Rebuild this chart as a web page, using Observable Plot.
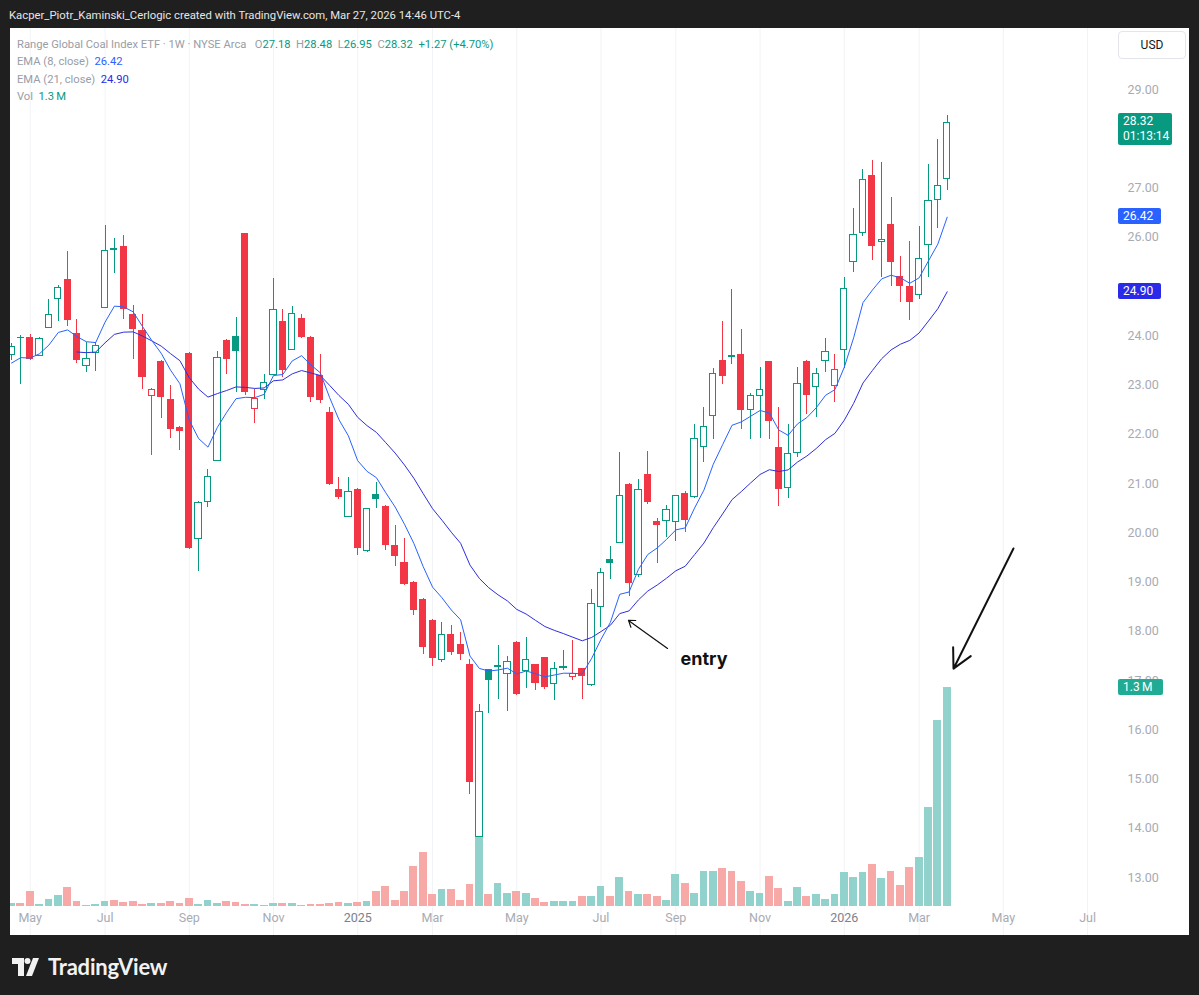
<!DOCTYPE html>
<html><head><meta charset="utf-8">
<script src="https://cdn.jsdelivr.net/npm/d3@7"></script>
<script src="https://cdn.jsdelivr.net/npm/@observablehq/plot@0.6"></script>
<style>
html,body{margin:0;padding:0;background:#1f1f1f;width:1199px;height:995px;overflow:hidden;font-family:Roboto,"Noto Sans",sans-serif;}
#top{position:absolute;left:9px;top:9px;color:#e6e6e6;font-size:11.3px;white-space:nowrap;}
#panel{position:absolute;left:10px;top:28px;width:1179px;height:907px;background:#fff;overflow:hidden;}
#panel .layer{position:absolute;left:0;top:0;}
#legend{position:absolute;left:7px;top:8px;font-size:11.2px;line-height:17.3px;color:#9a9da6;white-space:nowrap;z-index:5;}
#legend .up{color:#089981}
#legend .e8{color:#2962ff}
#legend .e21{color:#2a2ae8}
#legend .vol{color:#089981}
#usd{position:absolute;left:1108px;top:3px;width:66px;height:26px;border:1px solid #e3e5ea;border-radius:4px;font-size:12px;color:#131722;text-align:center;line-height:26px;z-index:5;}
#logo{position:absolute;left:12px;top:953px;display:flex;align-items:center;gap:6px;color:#f2f2f2;}
#logo span{font-family:Lato,"Noto Sans",sans-serif;font-weight:700;font-size:22px;letter-spacing:-0.2px;}
</style></head>
<body>
<div id="top">Kacper_Piotr_Kaminski_Cerlogic created with TradingView.com, Mar 27, 2026 14:46 UTC-4</div>
<div id="panel">
  <div id="legend"></div>
  <div id="usd">USD</div>
</div>
<div id="logo"><svg width="30" height="20" viewBox="0 0 30 20"><path d="M0 1h12v18h-6v-12h-6z" fill="#f2f2f2"/><circle cx="15.5" cy="4" r="3" fill="#f2f2f2"/><path d="M14 19l7-18h6l-7 18z" fill="#f2f2f2"/></svg><span>TradingView</span></div>
<script>
// ---- data (weekly candles, Range Global Coal Index ETF, NYSE Arca) ----
const firstWeek = "2024-04-22";
const lastWeek = "2026-03-23";
const openP = [23.60,23.97,23.97,23.59,24.16,24.75,25.15,24.04,23.38,23.65,
 24.56,25.77,25.82,24.43,24.10,22.77,23.48,22.71,22.13,23.64,
 19.88,20.62,21.45,23.90,23.99,26.07,22.52,22.89,23.21,24.29,
 23.72,24.36,23.96,23.19,22.45,20.87,20.32,20.88,19.62,20.78,
 20.54,19.74,19.39,19.00,18.64,18.22,17.41,17.93,17.73,17.32,
 13.83,17.22,17.27,17.14,17.78,17.20,17.32,17.46,16.93,17.26,
 17.08,17.24,16.90,18.49,19.46,19.80,20.97,19.15,21.18,20.22,
 20.23,20.22,20.80,20.73,21.75,22.37,23.50,23.60,23.62,22.50,
 22.78,23.47,21.74,20.91,21.62,23.48,22.96,23.48,22.97,23.72,
 25.49,26.09,27.25,25.91,26.26,25.21,24.99,24.82,25.85,26.75,27.18];
const highP = [23.85,24.00,24.03,23.96,24.73,25.02,25.72,24.33,23.87,23.87,
 26.24,25.97,26.03,24.61,24.44,22.92,23.50,22.98,22.15,23.66,
 20.63,21.28,23.68,23.92,24.38,26.08,22.90,23.21,25.16,24.53,
 24.59,24.43,23.98,23.61,22.54,21.13,21.13,20.90,20.50,21.03,
 20.56,20.15,19.88,19.02,18.66,18.24,18.18,18.12,17.98,17.42,
 16.51,17.23,17.71,17.49,17.79,17.87,17.33,17.47,17.37,17.61,
 17.81,17.25,18.84,19.27,19.72,21.63,20.99,21.08,21.64,20.28,
 20.55,20.76,20.84,22.20,22.55,23.33,24.29,24.93,24.12,22.83,
 23.35,23.48,22.55,22.19,23.35,23.50,23.33,23.95,23.61,25.19,
 26.59,27.38,27.56,27.51,26.80,25.61,25.92,26.22,27.47,27.98,28.48];
const lowP = [23.50,23.02,23.50,23.57,24.14,24.28,24.19,23.43,23.26,23.28,
 24.55,25.27,24.34,23.51,22.91,21.56,22.31,21.91,21.67,19.67,
 19.21,20.51,21.44,23.22,22.85,22.79,22.21,22.71,23.20,23.16,
 23.70,23.95,22.65,22.62,20.96,20.67,20.31,19.54,19.60,20.50,
 19.64,19.32,18.93,18.32,17.52,17.28,17.36,17.51,17.41,14.68,
 13.82,16.32,16.61,16.38,16.70,16.83,16.79,16.81,16.59,17.21,
 17.00,16.61,16.88,18.08,19.06,19.79,18.71,19.10,20.57,19.37,
 19.91,19.82,20.01,20.70,21.43,21.89,23.02,23.41,22.09,21.89,
 21.91,21.89,20.54,20.70,21.52,22.40,22.35,23.26,22.65,23.33,
 25.28,26.02,25.53,25.19,25.01,24.68,24.31,24.73,25.19,26.17,26.95];
const closeP = [23.78,23.94,23.52,23.94,24.43,24.96,24.30,23.50,23.52,23.80,
 25.73,25.74,24.53,24.13,23.15,22.90,22.74,22.10,22.06,19.69,
 20.61,21.13,23.54,23.52,23.69,22.85,22.72,23.04,24.53,23.29,
 24.45,23.97,22.75,22.69,20.98,20.72,20.83,19.69,20.49,20.67,
 19.74,19.51,18.95,18.42,17.66,17.44,17.93,17.56,17.53,14.92,
 16.37,17.00,17.29,17.38,16.72,17.41,16.94,16.85,17.24,17.28,
 17.14,17.09,18.55,19.19,19.38,20.75,18.96,20.86,20.62,20.15,
 20.47,20.74,20.24,21.91,22.14,23.23,23.18,23.56,22.49,22.77,
 22.89,22.25,20.88,21.60,23.02,22.79,23.23,23.68,23.31,24.95,
 26.05,27.17,25.82,25.95,25.49,24.99,24.68,25.56,26.73,27.05,28.32];
const volumeM = [0.016,0.016,0.089,0.012,0.042,0.065,0.111,0.030,0.006,0.012,
 0.030,0.036,0.022,0.028,0.012,0.018,0.016,0.028,0.016,0.046,
 0.012,0.034,0.016,0.028,0.022,0.010,0.012,0.006,0.016,0.016,
 0.016,0.006,0.012,0.010,0.016,0.022,0.016,0.026,0.030,0.089,
 0.119,0.036,0.089,0.238,0.323,0.071,0.101,0.101,0.036,0.131,
 0.410,0.069,0.139,0.079,0.089,0.079,0.046,0.024,0.030,0.030,
 0.028,0.062,0.062,0.121,0.062,0.175,0.089,0.069,0.069,0.060,
 0.034,0.190,0.137,0.079,0.208,0.208,0.226,0.206,0.147,0.089,
 0.079,0.179,0.107,0.030,0.113,0.058,0.069,0.042,0.071,0.202,
 0.173,0.202,0.250,0.167,0.206,0.123,0.230,0.290,0.589,1.107,1.300];
const emaFastLen = 8, emaSlowLen = 21;
const emaFastSeed = 23.35;          // EMA(8) just before first visible week
const emaSlowStart = 7, emaSlowSeed = 23.67; // EMA(21) first drawn week and value
// axis ticks
const priceTicks = [13,14,15,16,17,18,19,20,21,22,23,24,25,26,27,28,29];
const timeTickDates = ["2024-05-06","2024-07-01","2024-09-02","2024-11-04","2025-01-06","2025-03-03","2025-05-05","2025-07-07","2025-09-01","2025-11-03","2026-01-05","2026-03-02","2026-05-04","2026-07-06"];
const timeTickLabels = ["May","Jul","Sep","Nov","2025","Mar","May","Jul","Sep","Nov","2026","Mar","May","Jul"];
// legend values
const legendOHLC = ["27.18","28.48","26.95","28.32"];
const legendChange = "+1.27 (+4.70%)";
const legendEma = ["26.42","24.90"];
const legendVol = "1.3\u2009M";
const countdown = "01:13:14";
// annotations
const arrowFrom = [{date:"2025-08-25T19:00Z", price:17.65},{date:"2026-05-11T14:00Z", price:19.68}];
const arrowTo   = [{date:"2025-07-27T14:00Z", price:18.22},{date:"2026-03-27T17:00Z", price:17.24}];
const noteText = [{date:"2025-09-04T12:00Z", price:17.43, text:"entry"}];

// ---- build table ----
const weeks = d3.utcMonday.range(new Date(firstWeek), d3.utcDay.offset(new Date(lastWeek), 1));
let ef = emaFastSeed, es = null;
const rows = weeks.map((date, i) => {
  const c = closeP[i];
  ef = ef + (2 / (emaFastLen + 1)) * (c - ef);
  let slow = NaN;
  if (i >= emaSlowStart) { es = es === null ? emaSlowSeed : es + (2 / (emaSlowLen + 1)) * (c - es); slow = es; }
  const prev = i > 0 ? closeP[i - 1] : openP[i];
  return {date, open: openP[i], high: highP[i], low: lowP[i], close: c, volume: volumeM[i],
          up: c >= prev, hollow: c >= openP[i], emaF: ef, emaS: slow};
});

const UP = "#089981", DOWN = "#f23645";
const W = 1179, H = 907;
const xScale = {type: "utc", domain: [weeks[0], weeks[weeks.length - 1]], range: [1, 936.7], axis: null};
const off = (d, h) => d3.utcHour.offset(d, h);
const tickRows = timeTickDates.map((d, i) => ({date: new Date(d), label: timeTickLabels[i], year: /^\d{4}$/.test(timeTickLabels[i])}));
// price labels that sit fully under a value tag are hidden, as in the app
const lastRow = rows[rows.length - 1];
const tagValues = [lastRow.close, +legendEma[0], +legendEma[1]];
const shownTicks = priceTicks.filter(t => !tagValues.some(v => Math.abs(v - t) < 0.35 && (v - t) < 0.35 && !(t === 26 || t === 27 || t === 24)));

// volume layer
const vol = Plot.plot({
  width: W, height: H, margin: 0,
  style: {background: "transparent"},
  x: xScale,
  y: {domain: [0, 1.3], range: [878, 659], axis: null},
  marks: [
    Plot.ruleX(tickRows, {x: "date", stroke: "#f2f3f6", strokeWidth: 1}),
    Plot.rect(rows, {x1: d => off(d.date, -70), x2: d => off(d.date, 70), y1: 0, y2: "volume",
      fill: d => d.hollow ? "#92d2cc" : "#f7a9a7", shapeRendering: "crispEdges"})
  ]
});
vol.classList.add("layer");

const pts = (arr) => arr.map(a => ({date: new Date(a.date), price: a.price}));
const af = pts(arrowFrom), at = pts(arrowTo);
const arrows = af.map((a, i) => ({x1: a.date, y1: a.price, x2: at[i].date, y2: at[i].price, big: i === 1}));

const price = Plot.plot({
  width: W, height: H, margin: 0,
  style: {background: "transparent"},
  x: xScale,
  y: {domain: [13, 29], range: [849, 61], axis: null},
  marks: [
    Plot.ruleX(rows, {x: "date", y1: "low", y2: "high", stroke: d => d.up ? UP : DOWN, strokeWidth: 1, shapeRendering: "crispEdges"}),
    Plot.rect(rows.filter(d => !d.hollow), {x1: d => off(d.date, -63), x2: d => off(d.date, 63),
      y1: "open", y2: "close", fill: d => d.up ? UP : DOWN, shapeRendering: "crispEdges"}),
    Plot.rect(rows.filter(d => d.hollow), {x1: d => off(d.date, -57), x2: d => off(d.date, 57),
      y1: "open", y2: "close", fill: "white", stroke: d => d.up ? UP : DOWN, strokeWidth: 1, shapeRendering: "crispEdges"}),
    Plot.line(rows, {x: "date", y: "emaS", stroke: "#2e2ee0", strokeWidth: 1}),
    Plot.line(rows, {x: "date", y: "emaF", stroke: "#2962ff", strokeWidth: 1}),
    Plot.arrow(arrows.filter(d => !d.big), {x1: "x1", y1: "y1", x2: "x2", y2: "y2", stroke: "#111", strokeWidth: 1.2, headLength: 9, headAngle: 70}),
    Plot.arrow(arrows.filter(d => d.big), {x1: "x1", y1: "y1", x2: "x2", y2: "y2", stroke: "#111", strokeWidth: 2, headLength: 16, headAngle: 55}),
    Plot.text(noteText, {x: d => new Date(d.date), y: "price", text: "text", textAnchor: "start", fontSize: 18, fontWeight: 700, fill: "#111", fontFamily: "Inter, sans-serif"}),
    Plot.text(shownTicks, {y: d => d, text: d => d.toFixed(2), frameAnchor: "left", dx: 1117, textAnchor: "start", fill: "#a8abb3", fontSize: 12.5, fontFamily: "Roboto, sans-serif"}),
    Plot.text(tickRows, {x: "date", text: "label", frameAnchor: "bottom", dy: -14, fill: d => d.year ? "#7e818a" : "#a8abb3", fontWeight: d => d.year ? 700 : 400, fontSize: 12.5, fontFamily: "Roboto, sans-serif"})
  ]
});
price.classList.add("layer");

const panel = document.getElementById("panel");
panel.appendChild(vol);
panel.appendChild(price);

// right-hand value tags placed through the plots' own scales
const ys = price.scale("y"), vs = vol.scale("y");
const tagLayer = d3.select(price).append("g").attr("font-family", "Roboto, sans-serif").attr("font-size", 12).attr("text-anchor", "start");
function tag(yc, h, color, lines, w) {
  const g = tagLayer.append("g");
  g.append("rect").attr("x", 1108).attr("y", yc - h / 2).attr("width", w).attr("height", h).attr("rx", 2).attr("fill", color);
  lines.forEach((t, k) => g.append("text").attr("x", 1113).attr("y", yc - h / 2 + 8 + k * 15).attr("dy", "0.35em").attr("fill", "white").text(t));
}
tag(ys.apply(lastRow.close) + 6.5, 32, UP, [legendOHLC[3], countdown], 54);
tag(ys.apply(+legendEma[0]), 16, "#2962ff", [legendEma[0]], 43);
tag(ys.apply(+legendEma[1]), 16, "#2a2ae8", [legendEma[1]], 43);
const vy = vs.apply(lastRow.volume);
tagLayer.append("rect").attr("x", 1108).attr("y", vy - 8).attr("width", 45).attr("height", 16).attr("rx", 2).attr("fill", "#22ab94");
tagLayer.append("text").attr("x", 1113).attr("y", vy).attr("dy", "0.35em").attr("fill", "white").text(legendVol);

// legend
const lg = document.getElementById("legend");
lg.innerHTML =
  `<div>Range Global Coal Index ETF · 1W · NYSE Arca&nbsp;&nbsp; O<span class="up">${legendOHLC[0]}</span>&nbsp; H<span class="up">${legendOHLC[1]}</span>&nbsp; L<span class="up">${legendOHLC[2]}</span>&nbsp; C<span class="up">${legendOHLC[3]}</span>&nbsp; <span class="up">${legendChange}</span></div>` +
  `<div>EMA (8, close)&nbsp; <span class="e8">${legendEma[0]}</span></div>` +
  `<div>EMA (21, close)&nbsp; <span class="e21">${legendEma[1]}</span></div>` +
  `<div>Vol&nbsp; <span class="vol">${legendVol}</span></div>`;
</script>
</body></html>
